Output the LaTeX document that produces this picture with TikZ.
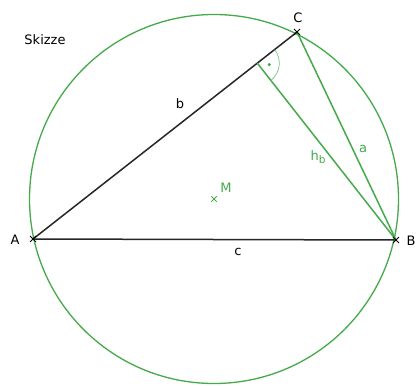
\documentclass[tikz,border=0pt]{standalone}
\usepackage{fontspec}
\setmainfont{DejaVu Sans}
\usetikzlibrary{calc,shapes.misc}
\definecolor{grn}{RGB}{70,170,75}
\begin{document}
\begin{tikzpicture}[x=1pt,y=-1pt,
  blk/.style={draw=black!85,line width=1.5pt},
  grl/.style={draw=grn,line width=1.5pt},
  xm/.style={cross out,draw,line width=0.9pt,minimum size=5pt,inner sep=0pt},
  lbl/.style={font=\fontsize{13}{15}\selectfont,inner sep=0pt}]
\fill[white] (0,0) rectangle (419,385);
\useasboundingbox (0,0) rectangle (419,385);
\coordinate (A) at (33,239);
\coordinate (B) at (396,240);
\coordinate (C) at (297,32);
\coordinate (M) at (214,199);
\coordinate (F) at ($(A)!(B)!(C)$);
\draw[grn,line width=1.3pt] (M) circle[radius=184.5];
\draw[blk] (A) -- (B);
\draw[blk] (A) -- (C);
\draw[grl] (C) -- (B);
\draw[grl] (F) -- (B);
\draw[grn!70,line width=0.7pt] ($(F)+(-38:22)$) arc[start angle=-38,end angle=52,radius=22];
\fill[grn] ($(F)+(7:12)$) circle[radius=1.7pt];
\node[xm,draw=black] (xA) at (A) {};
\node[xm,draw=black] (xB) at (B) {};
\node[xm,draw=black] (xC) at (C) {};
\node[xm,draw=grn,minimum size=4.5pt] (xM) at (M) {};
\node[lbl] (skizze) at (45,40) {Skizze};
\node[lbl] (lC) at (298,18) {C};
\node[lbl] (lA) at (15,240) {A};
\node[lbl] (lB) at (411,241) {B};
\node[lbl] (lb) at (180,104) {b};
\node[lbl] (lc) at (238,252) {c};
\node[lbl,text=grn] (la) at (363,149) {a};
\node[lbl,text=grn] (lh) at (318,157) {h\raisebox{-0.4ex}{\fontsize{10.5}{12}\selectfont b}};
\node[lbl,text=grn] (lM) at (226,188) {M};
\end{tikzpicture}
\end{document}
